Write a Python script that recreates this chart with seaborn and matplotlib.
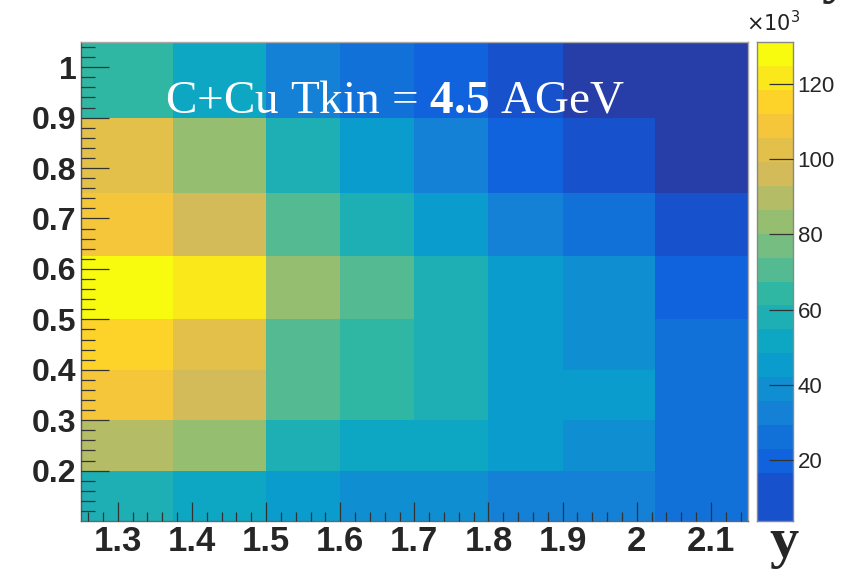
import numpy as np
import matplotlib
matplotlib.use("Agg")
import matplotlib.pyplot as plt
import seaborn as sns
from matplotlib.colors import LinearSegmentedColormap, ListedColormap, Normalize
from matplotlib.ticker import NullLocator

# bin edges (non uniform) of the 2D histogram
x_edges = [1.25, 1.375, 1.5, 1.6, 1.7, 1.8, 1.9, 2.025, 2.15]
y_edges = [0.1, 0.2, 0.3, 0.4, 0.5, 0.625, 0.75, 0.9, 1.05]

# bin contents in units of 10^3, first row is y = 0.1-0.2
counts = [
    [57.9, 51.6, 45.2, 38.8, 38.8, 32.4, 32.4, 26.1],
    [89.8, 83.4, 57.9, 51.6, 51.6, 45.2, 38.8, 26.1],
    [108.9, 96.2, 70.7, 64.3, 57.9, 45.2, 45.2, 26.1],
    [115.3, 102.5, 70.7, 64.3, 57.9, 45.2, 38.8, 26.1],
    [128.0, 121.6, 83.4, 70.7, 57.9, 45.2, 38.8, 19.7],
    [108.9, 96.2, 70.7, 57.9, 45.2, 32.4, 26.1, 13.3],
    [102.5, 83.4, 57.9, 45.2, 32.4, 19.7, 13.3, 7.0],
    [64.3, 51.6, 32.4, 26.1, 19.7, 13.3, 7.0, 7.0],
]

x_major = [1.3, 1.4, 1.5, 1.6, 1.7, 1.8, 1.9, 2.0, 2.1]
y_major = [0.2, 0.3, 0.4, 0.5, 0.6, 0.7, 0.8, 0.9, 1.0]
z_ticks = [20, 40, 60, 80, 100, 120]
z_min, z_max, n_cont = 3.78, 131.2, 20

# ROOT kBird palette, 20 contour colours
bird_stops = [
    (0.2082, 0.1664, 0.5293), (0.0592, 0.3599, 0.8684), (0.0780, 0.5041, 0.8385),
    (0.0232, 0.6419, 0.7914), (0.1802, 0.7178, 0.6425), (0.5301, 0.7492, 0.4662),
    (0.8186, 0.7328, 0.3499), (0.9956, 0.7862, 0.1968), (0.9764, 0.9832, 0.0539),
]
bird = LinearSegmentedColormap.from_list("bird", bird_stops)
idx = ((np.arange(n_cont) + 0.99) * 255 / n_cont).astype(int)
cont_colors = bird(idx / 254.0)
cmap = ListedColormap(cont_colors)
norm = Normalize(z_min, z_max)

# expand to a uniform fine grid so seaborn's heatmap can draw it
step = 0.025
nx = int(round((x_edges[-1] - x_edges[0]) / step))
ny = int(round((y_edges[-1] - y_edges[0]) / step))
xc = x_edges[0] + (np.arange(nx) + 0.5) * step
yc = y_edges[0] + (np.arange(ny) + 0.5) * step
xi = np.searchsorted(x_edges, xc) - 1
yi = np.searchsorted(y_edges, yc) - 1
fine = np.array(counts)[np.ix_(yi, xi)]


def xpos(v):
    return (v - x_edges[0]) / step


def ypos(v):
    return (v - y_edges[0]) / step


sns.set_style("white")
plt.rcParams["font.family"] = ["Liberation Sans", "DejaVu Sans"]
plt.rcParams["mathtext.fontset"] = "custom"
plt.rcParams["mathtext.rm"] = "Liberation Serif"
plt.rcParams["mathtext.bf"] = "Liberation Serif:bold"

fig = plt.figure(figsize=(8.6, 5.74), dpi=100)
ax = fig.add_axes([0.0938, 0.0923, 0.776, 0.8345])
sns.heatmap(fine, cmap=cmap, norm=norm, cbar=False, ax=ax,
            xticklabels=False, yticklabels=False)
ax.set_xlim(0, nx)
ax.set_ylim(0, ny)
ax.set_axisbelow(False)

for s in ax.spines.values():
    s.set_visible(True)
    s.set_linewidth(1.0)
ax.spines["left"].set_color("#555555")
ax.spines["bottom"].set_color("#666666")
ax.spines["top"].set_color("#aaaaaa")
ax.spines["right"].set_color("#aaaaaa")

ax.set_xticks([xpos(v) for v in x_major])
ax.set_xticklabels([f"{v:g}" for v in x_major], fontsize=25, fontweight="bold")
ax.set_xticks([xpos(v) for v in np.arange(1.26, 2.15, 0.02)], minor=True)
ax.set_yticks([ypos(v) for v in y_major])
ax.set_yticklabels([f"{v:g}" for v in y_major], fontsize=23, fontweight="bold",
                   rotation=0)
ax.set_yticks([ypos(v) for v in np.arange(0.12, 1.05, 0.02)], minor=True)
ax.tick_params(axis="both", which="both", direction="in", color="#333333",
               width=0.9, bottom=True, left=True, top=False, right=False)
ax.tick_params(axis="x", which="major", length=14, pad=3)
ax.tick_params(axis="x", which="minor", length=6.5)
ax.tick_params(axis="y", which="major", length=20, pad=3)
ax.tick_params(axis="y", which="minor", length=10)
ax.set_xlabel("")
ax.set_ylabel("")

ax.text(0.126, 0.852, r"C+Cu Tkin = $\mathbf{4.5}$ AGeV", transform=ax.transAxes,
        color="white", fontsize=34, family="Liberation Serif", va="baseline")

# palette axis, drawn as a one column heatmap of the contour levels
# (ROOT shows the 2nd contour colour in the lowest band too)
dz = (z_max - z_min) / n_cont
band_mid = z_min + (np.arange(n_cont) + 0.5) * dz
bar_cmap = ListedColormap(np.vstack([cont_colors[1:2], cont_colors[1:]]))
cax = fig.add_axes([0.8799, 0.0923, 0.0426, 0.8345])
sns.heatmap(band_mid[:, None], cmap=bar_cmap, norm=norm, cbar=False, ax=cax,
            xticklabels=False, yticklabels=False, linewidths=0,
            antialiased=False)
cax.set_ylim(0, n_cont)
cax.set_axisbelow(False)
for s in cax.spines.values():
    s.set_visible(True)
    s.set_color("#888888")
    s.set_linewidth(1.0)
cax.yaxis.tick_right()
cax.set_yticks([(t - z_min) / dz for t in z_ticks])
cax.set_yticklabels([str(t) for t in z_ticks], rotation=0)
cax.yaxis.set_minor_locator(NullLocator())
cax.xaxis.set_minor_locator(NullLocator())
cax.tick_params(axis="y", which="major", direction="in", length=17, width=0.9,
                color="#333333", labelsize=16, pad=3, right=True, left=False)
cax.tick_params(axis="both", which="minor", length=0, left=False, right=False,
                top=False, bottom=False)
cax.tick_params(axis="x", bottom=False, top=False)

fig.text(0.867, 0.945, r"$\times10^{3}$", fontsize=15, color="#222222",
         math_fontfamily="dejavusans")
fig.text(0.895, 0.0296, "y", fontsize=42, fontweight="bold",
         family="Liberation Serif", va="baseline")
fig.text(0.955, 1.014, "y", fontsize=42, fontweight="bold",
         family="Liberation Serif", va="baseline")

fig.savefig("out.png", dpi=100)
